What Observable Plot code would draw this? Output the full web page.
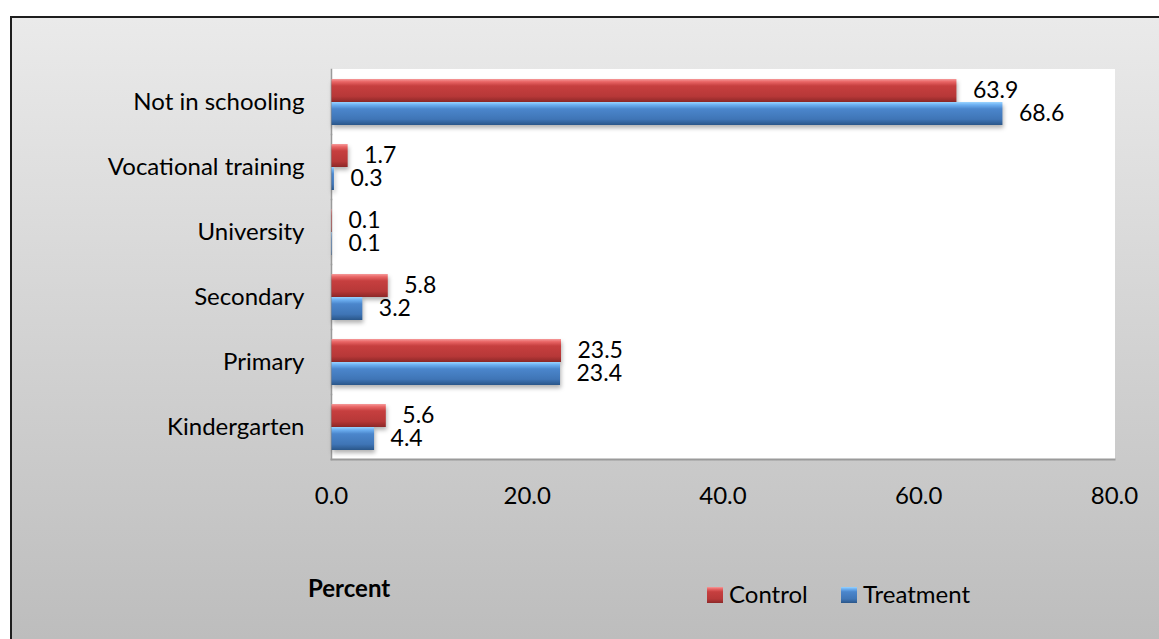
<!DOCTYPE html>
<html><head><meta charset="utf-8">
<script src="https://cdn.jsdelivr.net/npm/d3@7"></script>
<script src="https://cdn.jsdelivr.net/npm/@observablehq/plot@0.6"></script>
<style>
body{margin:0;background:#fff;}
#page{position:relative;width:1159px;height:639px;overflow:hidden;font-family:Lato,"Open Sans",sans-serif;color:#000;}
#bg{position:absolute;left:10px;top:16px;width:1200px;height:660px;border:2px solid #1e1e1e;background:linear-gradient(#eaeaea,#bcbcbc 96%);}
#chart{position:absolute;left:0;top:0;}
#chart svg{overflow:visible;}
#chart g[aria-label="bar"] rect{filter:drop-shadow(1px 3px 2px rgba(0,0,0,0.3));}
.note{position:absolute;font-size:24px;line-height:24px;white-space:nowrap;}
.sw{position:absolute;width:16px;height:16px;}
</style>
</head><body>
<div id="page">
  <div id="bg"></div>
  <div id="chart"></div>
  <div class="note" id="xlabel" style="left:308px;top:576px;font-weight:bold;"></div>
  <div id="legend"></div>
</div>
<script>
const categories = ["Not in schooling","Vocational training","University","Secondary","Primary","Kindergarten"];
const series = ["Control","Treatment"];
const control = [63.9,1.7,0.1,5.8,23.5,5.6];
const treatment = [68.6,0.3,0.1,3.2,23.4,4.4];
const xTicks = [0,20,40,60,80];
const axisLabel = "Percent";

const rows = [];
categories.forEach((c,i)=>{
  rows.push({category:c, series:series[0], value:control[i]});
  rows.push({category:c, series:series[1], value:treatment[i]});
});

const chart = Plot.plot({
  width: 1159, height: 540,
  marginLeft: 331, marginRight: 45, marginTop: 67, marginBottom: 80,
  style: {fontFamily: "Lato, sans-serif", fontSize: "24px", color: "#000", background: "transparent"},
  x: {domain: [0,80], ticks: xTicks, tickFormat: d => d.toFixed(1), tickSize: 0, tickPadding: 27, label: null},
  fy: {domain: categories, padding: 0, label: null, axis: "left", tickSize: 0, tickPadding: 27},
  y: {domain: series, paddingInner: 0, paddingOuter: 0.37, axis: null},
  color: {domain: series, range: ["url(#gradControl)","url(#gradTreatment)"]},
  marks: [
    Plot.frame({fill: "white", stroke: "white"}),
    Plot.frame({anchor: "left", stroke: "#9a9a9a", strokeWidth: 1.5}),
    Plot.frame({anchor: "bottom", stroke: "#9a9a9a", strokeWidth: 2, facetAnchor: "bottom"}),
    Plot.barX(rows, {x: "value", y: "series", fy: "category", fill: "series", insetLeft: 0.5}),
    Plot.text(rows, {x: "value", y: "series", fy: "category", text: d => d.value.toFixed(1), textAnchor: "start", dx: 16, fill: "black", fontSize: 23})
  ]
});

const ns = "http://www.w3.org/2000/svg";
const defs = document.createElementNS(ns, "defs");
function grad(id, stops){
  const g = document.createElementNS(ns, "linearGradient");
  g.setAttribute("id", id); g.setAttribute("x1","0"); g.setAttribute("y1","0"); g.setAttribute("x2","0"); g.setAttribute("y2","1");
  stops.forEach(([o,c])=>{const s=document.createElementNS(ns,"stop"); s.setAttribute("offset",o); s.setAttribute("stop-color",c); g.appendChild(s);});
  defs.appendChild(g);
}
const redStops = [[0,"#f59a9a"],[0.12,"#e96565"],[0.3,"#c63f3f"],[0.75,"#b73838"],[1,"#8c2828"]];
const blueStops = [[0,"#9ad4ff"],[0.12,"#6db0f2"],[0.3,"#4b86cc"],[0.75,"#3f75b6"],[1,"#2a5689"]];
grad("gradControl", redStops);
grad("gradTreatment", blueStops);
chart.insertBefore(defs, chart.firstChild);
document.getElementById("chart").appendChild(chart);

document.getElementById("xlabel").textContent = axisLabel;
const css = s => "linear-gradient(" + s.map(([o,c]) => c + " " + (o*100) + "%").join(",") + ")";
const legend = document.getElementById("legend");
const legendPos = [{sw:707, tx:729},{sw:841, tx:863}];
series.forEach((s,i)=>{
  const sw = document.createElement("div");
  sw.className = "sw";
  sw.style.left = legendPos[i].sw + "px"; sw.style.top = "587px";
  sw.style.background = css(i === 0 ? redStops : blueStops);
  legend.appendChild(sw);
  const t = document.createElement("div");
  t.className = "note";
  t.style.left = legendPos[i].tx + "px"; t.style.top = "582px";
  t.textContent = s;
  legend.appendChild(t);
});
</script>
</body></html>
